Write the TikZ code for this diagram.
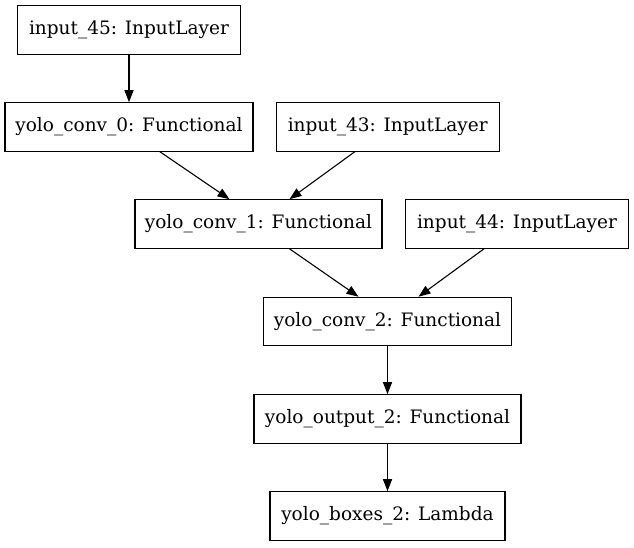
\documentclass[tikz,border=0pt]{standalone}
\usepackage{fontspec}
\setmainfont{DejaVu Serif}
\usetikzlibrary{arrows.meta}
\begin{document}
\begin{tikzpicture}[x=1pt,y=-1pt,
  layer/.style={draw=black, line width=1.1pt, rectangle, minimum height=48.5pt, inner sep=0pt, font=\fontsize{18.5}{22}\selectfont},
  conn/.style={line width=1.1pt, -{Triangle[length=12pt,width=9pt]}}]
\useasboundingbox (0,0) rectangle (634,547);
\node[layer, minimum width=223pt] (in45) at (129,30) {input\_45: InputLayer};
\node[layer, minimum width=248pt] (c0) at (129,127) {yolo\_conv\_0: Functional};
\node[layer, minimum width=223pt] (in43) at (387.7,127) {input\_43: InputLayer};
\node[layer, minimum width=247pt] (c1) at (258.5,224) {yolo\_conv\_1: Functional};
\node[layer, minimum width=223pt] (in44) at (517,224) {input\_44: InputLayer};
\node[layer, minimum width=248pt] (c2) at (387.5,321.5) {yolo\_conv\_2: Functional};
\node[layer, minimum width=267pt] (out2) at (387.5,419) {yolo\_output\_2: Functional};
\node[layer, minimum width=235pt] (bx2) at (387.5,516) {yolo\_boxes\_2: Lambda};
\draw[conn] (in45.south) -- (c0.north);
\draw[conn] ([xshift=31pt]c0.south) -- ([xshift=-29pt]c1.north);
\draw[conn] ([xshift=-33pt]in43.south) -- ([xshift=31pt]c1.north);
\draw[conn] ([xshift=31pt]c1.south) -- ([xshift=-29pt]c2.north);
\draw[conn] ([xshift=-33pt]in44.south) -- ([xshift=31pt]c2.north);
\draw[conn] (c2.south) -- (out2.north);
\draw[conn] (out2.south) -- (bx2.north);
\end{tikzpicture}
\end{document}
